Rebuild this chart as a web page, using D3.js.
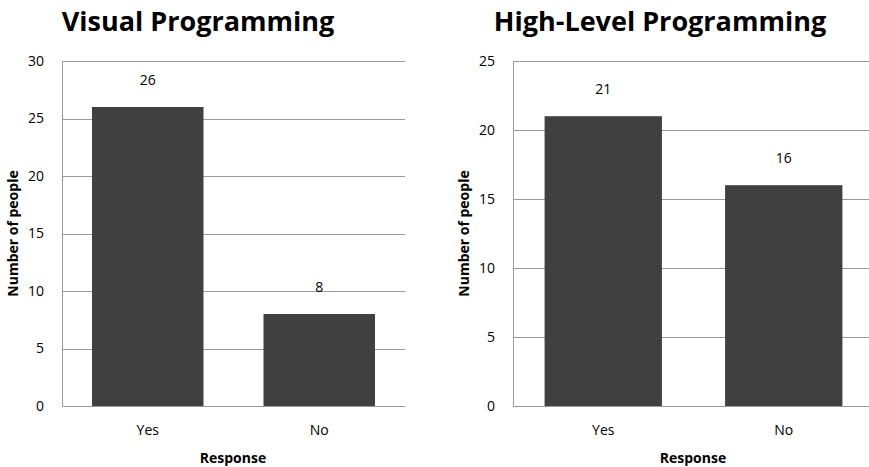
<!DOCTYPE html>
<html><head><meta charset="utf-8">
<script src="https://cdn.jsdelivr.net/npm/d3@7"></script>
<style>body{margin:0;background:#fff;} svg{display:block;font-family:"Open Sans","Noto Sans",sans-serif;}</style>
</head><body>
<svg id="c" width="869" height="467"></svg>
<script>
const categories = ["Yes", "No"];
const visualValues = [26, 8];
const highLevelValues = [21, 16];
const visualTicks = [0, 5, 10, 15, 20, 25, 30];
const highLevelTicks = [0, 5, 10, 15, 20, 25];
const titles = ["Visual Programming", "High-Level Programming"];

(function(){
const svg = d3.select("#c");
const panels = [
  {title: titles[0], values: visualValues, ticks: visualTicks, x0: 62, x1: 405, titleX: 198, yTitleX: 18, respX: 233},
  {title: titles[1], values: highLevelValues, ticks: highLevelTicks, x0: 513, x1: 874, titleX: 660, yTitleX: 469, respX: 693}
];
const plotTop = 61, plotBottom = 406;
panels.forEach(p => {
  const g = svg.append("g");
  const x = d3.scaleBand().domain(categories).range([p.x0, p.x1]).paddingInner(0.35).paddingOuter(0.175);
  const y = d3.scaleLinear().domain([0, d3.max(p.ticks)]).range([plotBottom, plotTop]);
  g.selectAll("line.grid").data(p.ticks).join("line")
    .attr("x1", p.x0).attr("x2", p.x1)
    .attr("y1", d => Math.round(y(d)) + 0.5).attr("y2", d => Math.round(y(d)) + 0.5)
    .attr("stroke", "#9a9a9a").attr("stroke-width", 1);
  g.append("line").attr("x1", p.x0 + 0.5).attr("x2", p.x0 + 0.5).attr("y1", plotTop).attr("y2", plotBottom + 1)
    .attr("stroke", "#9a9a9a");
  g.selectAll("text.yt").data(p.ticks).join("text")
    .attr("x", p.x0 - 18).attr("y", d => y(d)).attr("dy", "0.35em")
    .attr("text-anchor", "end").attr("font-size", 14).attr("fill", "#000").text(d => d);
  g.selectAll("rect").data(categories).join("rect")
    .attr("x", d => x(d)).attr("width", x.bandwidth())
    .attr("y", (d, i) => y(p.values[i])).attr("height", (d, i) => plotBottom - y(p.values[i]))
    .attr("fill", "#404040");
  g.selectAll("text.v").data(categories).join("text")
    .attr("x", d => x(d) + x.bandwidth() / 2).attr("y", (d, i) => y(p.values[i]) - 22)
    .attr("text-anchor", "middle").attr("font-size", 14).text((d, i) => p.values[i]);
  g.selectAll("text.xt").data(categories).join("text")
    .attr("x", d => x(d) + x.bandwidth() / 2).attr("y", 435)
    .attr("text-anchor", "middle").attr("font-size", 14).text(d => d);
  g.append("text").attr("x", p.titleX).attr("y", 31).attr("text-anchor", "middle")
    .attr("font-size", 27).attr("font-weight", "bold").text(p.title);
  g.append("text").attr("x", p.respX).attr("y", 463)
    .attr("text-anchor", "middle").attr("font-size", 14).attr("font-weight", "bold").text("Response");
  g.append("text").attr("transform", `translate(${p.yTitleX},${(plotTop + plotBottom) / 2}) rotate(-90)`)
    .attr("text-anchor", "middle").attr("font-size", 14).attr("font-weight", "bold").text("Number of people");
});
})();
</script>
</body></html>
